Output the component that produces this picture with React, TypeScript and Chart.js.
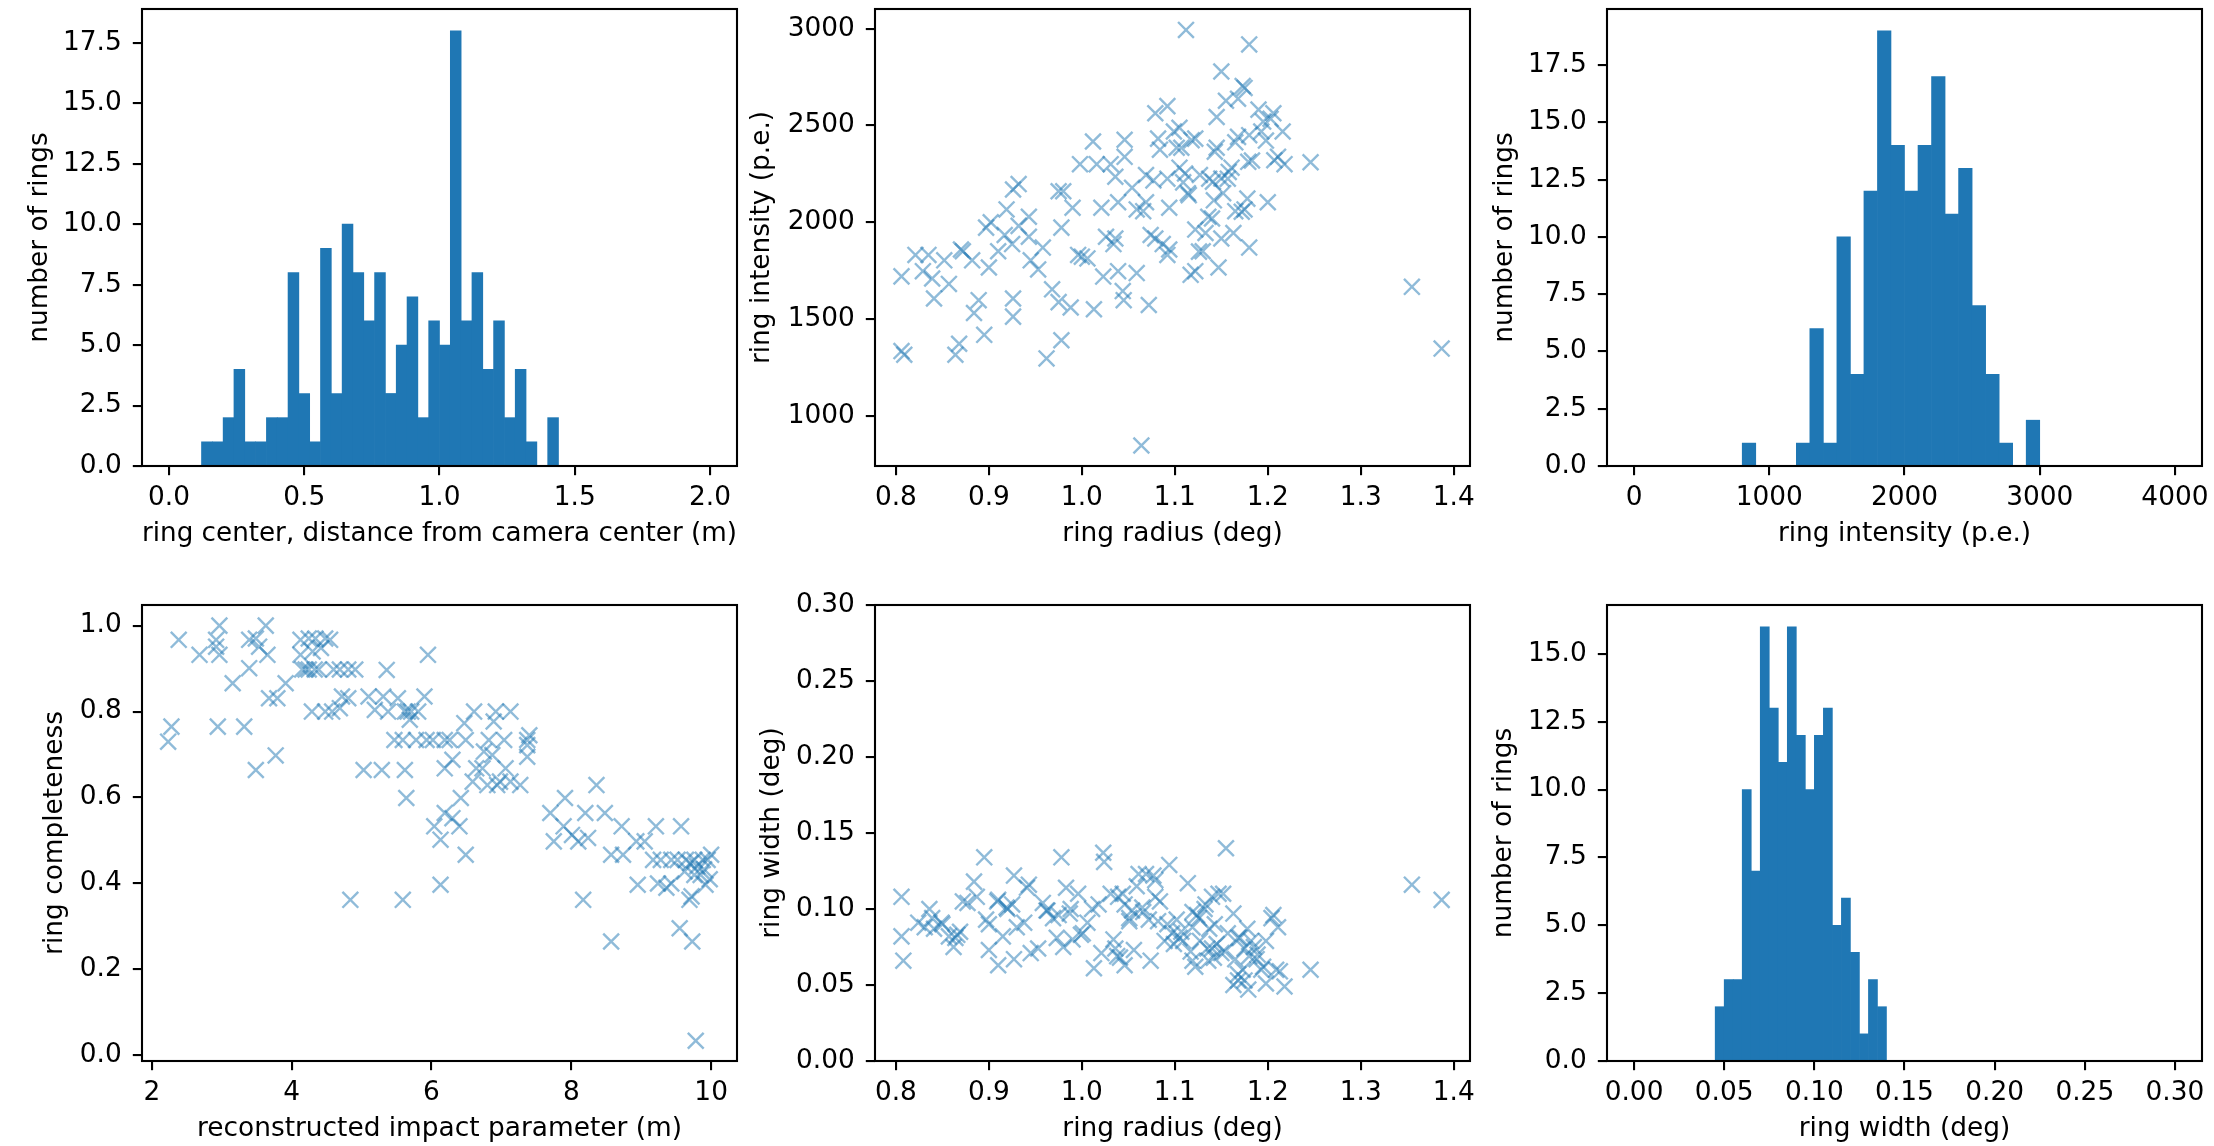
import React, { useEffect, useRef } from 'react';
import { Chart, registerables } from 'chart.js';

Chart.register(...registerables);

// ---------------- data ----------------
// Histogram 1: ring center distance from camera center (m), 50 bins on [0, 2]
const centerBinStart = 0;
const centerBinWidth = 0.04;
const centerCounts = [
  0, 0, 0, 1, 1, 2, 4, 1, 1, 2, 2, 8, 3, 1, 9, 3, 10, 8, 6, 8, 3, 5, 7, 2, 6,
  5, 18, 6, 8, 4, 6, 2, 4, 1, 0, 2, 0, 0, 0, 0, 0, 0, 0, 0, 0, 0, 0, 0, 0, 0,
];

// Histogram 3: ring intensity (p.e.), 40 bins on [0, 4000]
const intensityBinStart = 0;
const intensityBinWidth = 100;
const intensityCounts = [
  0, 0, 0, 0, 0, 0, 0, 0, 1, 0, 0, 0, 1, 6, 1, 10, 4, 12, 19, 14,
  12, 14, 17, 11, 13, 7, 4, 1, 0, 2, 0, 0, 0, 0, 0, 0, 0, 0, 0, 0,
];

// Histogram 6: ring width (deg), 60 bins on [0, 0.3]
const widthBinStart = 0;
const widthBinWidth = 0.005;
const widthCounts = [
  0, 0, 0, 0, 0, 0, 0, 0, 0, 2, 3, 3, 10, 7, 16, 13, 11, 16, 12, 10,
  12, 13, 5, 6, 4, 1, 3, 2, 0, 0, 0, 0, 0, 0, 0, 0, 0, 0, 0, 0,
  0, 0, 0, 0, 0, 0, 0, 0, 0, 0, 0, 0, 0, 0, 0, 0, 0, 0, 0, 0,
];

// Scatter 2: ring radius (deg) vs ring intensity (p.e.)
const radiusForIntensity = [
  0.806, 0.806, 0.809, 0.821, 0.829, 0.835, 0.839, 0.841, 0.852, 0.857,
  0.864, 0.868, 0.870, 0.872, 0.882, 0.884, 0.889, 0.895, 0.897, 0.902,
  0.900, 0.910, 0.917, 0.919, 0.925, 0.926, 0.932, 0.926, 0.926, 0.932,
  0.943, 0.943, 0.945, 0.953, 0.958, 0.962, 0.968, 0.975, 0.980, 0.978,
  0.978, 0.975, 0.988, 0.990, 0.998, 0.996, 1.000, 1.006, 1.012, 1.013,
  1.016, 1.021, 1.023, 1.026, 1.031, 1.034, 1.036, 1.036, 1.039, 1.039,
  1.044, 1.045, 1.046, 1.046, 1.054, 1.059, 1.059, 1.064, 1.066, 1.069,
  1.069, 1.072, 1.074, 1.077, 1.079, 1.079, 1.082, 1.084, 1.092, 1.087,
  1.092, 1.094, 1.094, 1.092, 1.099, 1.102, 1.105, 1.107, 1.112, 1.105,
  1.109, 1.114, 1.117, 1.122, 1.122, 1.122, 1.127, 1.130, 1.133, 1.137,
  1.140, 1.142, 1.145, 1.147, 1.145, 1.150, 1.150, 1.152, 1.155, 1.157,
  1.161, 1.163, 1.165, 1.168, 1.165, 1.173, 1.175, 1.175, 1.178, 1.180,
  1.180, 1.183, 1.180, 1.190, 1.193, 1.198, 1.200, 1.203, 1.206, 1.211,
  1.216, 1.218, 1.246, 1.355, 1.387,
  1.195, 1.168, 1.143, 1.118, 1.207, 1.179, 1.158, 1.150, 1.111, 1.141,
  1.115, 1.136, 1.172, 1.126,
];
const ringIntensity = [
  1720, 1334, 1315, 1831, 1747, 1831, 1709, 1606, 1803, 1681,
  1315, 1372, 1859, 1850, 1803, 1531, 1597, 1418, 1972, 2000,
  1766, 1850, 1934, 2066, 1887, 2169, 2197, 1606, 1512, 1981,
  2028, 1925, 1803, 1756, 1869, 1296, 1653, 2160, 2160, 1972,
  1390, 1587, 1559, 2075, 2300, 1831, 1822, 1813, 2417, 1550,
  2300, 2075, 1719, 1925, 2300, 1887, 1916, 2235, 1747, 2103,
  1644, 1597, 2338, 2426, 2178, 1737, 2066, 846, 2057, 2103,
  2244, 1572, 1934, 2216, 2563, 1916, 2432, 2375, 2600, 1887,
  1831, 1859, 2075, 2225, 2469, 2385, 2488, 2385, 2994, 2282,
  2206, 2150, 1728, 1747, 2432, 1962, 2244, 1850, 1944, 2225,
  2019, 2113, 2544, 1766, 2385, 2779, 1916, 2150, 2628, 2225,
  2282, 1944, 2413, 2638, 2057, 2704, 2694, 2066, 2122, 2919,
  1869, 2319, 2450, 2582, 2469, 2422, 2103, 2535, 2563, 2338,
  2469, 2300, 2310, 1666, 1347,
  2520, 2441, 2364, 2424, 2320, 2312, 2260, 2226, 2252, 2209,
  2140, 2028, 2054, 1848,
];

// Scatter 4: reconstructed impact parameter (m) vs ring completeness
const impactParameter = [
  2.385, 2.683, 2.967, 2.920, 2.920, 2.967, 3.157, 3.393, 3.488, 3.535,
  3.393, 3.630, 3.654, 2.281, 2.234, 2.944, 3.322, 3.488, 3.772, 3.677,
  3.796, 3.914, 4.127, 4.245, 4.340, 4.480, 4.550, 4.127, 4.300, 4.420,
  4.151, 4.245, 4.387, 4.600, 4.690, 4.810, 4.910, 4.290, 4.480, 4.580,
  4.690, 4.720, 4.810, 5.100, 5.310, 5.520, 5.190, 5.380, 5.620, 5.710,
  5.810, 5.690, 5.900, 5.950, 5.360, 5.470, 5.590, 5.780, 5.930, 6.020,
  5.030, 5.290, 5.620, 5.640, 4.840, 5.590, 6.040,
  6.61, 6.92, 7.13, 6.47, 6.89, 6.19, 6.26, 6.49, 6.82, 7.04,
  7.37, 7.37, 6.75, 6.87, 7.37, 6.30, 6.19, 6.64, 6.73, 7.06,
  6.59, 6.80, 6.94, 7.13, 7.27, 6.42, 6.19, 6.30, 6.40, 6.13,
  6.49, 6.13, 7.70, 7.91, 7.89, 8.01, 8.20, 8.24, 7.75, 8.10,
  8.36, 8.48, 8.72, 8.57, 8.74, 8.93, 9.05, 9.21, 9.57, 9.17,
  9.28, 9.43, 9.52, 9.64, 9.76, 9.88, 9.95, 9.62, 9.76, 9.85,
  9.92, 8.95, 9.24, 9.36, 9.43, 9.69, 8.17, 9.55, 8.57, 9.73,
  9.78,
  9.80, 9.90, 10.0, 9.98, 9.70, 4.20, 4.33, 5.66, 6.98, 7.40, 9.72,
];
const ringCompleteness = [
  0.967, 0.932, 1.000, 0.967, 0.951, 0.932, 0.866, 0.967, 0.970, 0.951,
  0.901, 1.000, 0.932, 0.765, 0.730, 0.765, 0.765, 0.664, 0.698, 0.831,
  0.831, 0.866, 0.967, 0.970, 0.970, 0.970, 0.967, 0.932, 0.940, 0.948,
  0.898, 0.898, 0.898, 0.898, 0.898, 0.898, 0.898, 0.800, 0.800, 0.800,
  0.808, 0.835, 0.831, 0.835, 0.835, 0.831, 0.804, 0.800, 0.800, 0.800,
  0.800, 0.781, 0.835, 0.932, 0.897, 0.734, 0.734, 0.734, 0.734, 0.734,
  0.664, 0.664, 0.664, 0.599, 0.362, 0.362, 0.533,
  0.800, 0.800, 0.800, 0.773, 0.777, 0.734, 0.734, 0.734, 0.734, 0.734,
  0.734, 0.722, 0.707, 0.699, 0.695, 0.688, 0.668, 0.668, 0.668, 0.668,
  0.637, 0.629, 0.629, 0.637, 0.629, 0.599, 0.564, 0.552, 0.533, 0.502,
  0.467, 0.397, 0.564, 0.599, 0.533, 0.513, 0.564, 0.506, 0.498, 0.498,
  0.629, 0.564, 0.533, 0.467, 0.467, 0.498, 0.498, 0.533, 0.533, 0.455,
  0.455, 0.455, 0.455, 0.455, 0.455, 0.455, 0.455, 0.428, 0.420, 0.420,
  0.397, 0.397, 0.400, 0.390, 0.400, 0.362, 0.362, 0.296, 0.265, 0.265,
  0.034,
  0.440, 0.433, 0.467, 0.410, 0.447, 0.898, 0.898, 0.800, 0.637, 0.745, 0.370,
];

// Scatter 5: ring radius (deg) vs ring width (deg)
const radiusForWidth = [
  0.806, 0.806, 0.808, 0.824, 0.831, 0.836, 0.839, 0.841, 0.849, 0.857,
  0.862, 0.864, 0.869, 0.872, 0.877, 0.884, 0.887, 0.895, 0.897, 0.900,
  0.900, 0.910, 0.910, 0.915, 0.920, 0.925, 0.927, 0.930, 0.927, 0.938,
  0.943, 0.945, 0.953, 0.958, 0.963, 0.973, 0.975, 0.978, 0.980, 0.983,
  0.988, 0.990, 0.996, 1.001, 1.006, 1.011, 1.013, 1.018, 1.021, 1.023,
  1.024, 1.034, 1.036, 1.039, 1.041, 1.044, 1.046, 1.046, 1.051, 1.056,
  1.059, 1.066, 1.069, 1.072, 1.074, 1.077, 1.079, 1.082, 1.084, 1.089,
  0.850, 0.866, 0.909, 0.919, 0.941, 0.962, 0.969, 0.987, 0.999, 1.031,
  1.038, 1.051, 1.054, 1.065, 1.061, 1.079,
  1.092, 1.094, 1.097, 1.099, 1.102, 1.105, 1.107, 1.109, 1.114, 1.117,
  1.119, 1.122, 1.124, 1.127, 1.132, 1.135, 1.137, 1.140, 1.142, 1.145,
  1.147, 1.150, 1.152, 1.155, 1.157, 1.163, 1.163, 1.165, 1.168, 1.170,
  1.173, 1.175, 1.178, 1.179, 1.180, 1.185, 1.188, 1.193, 1.195, 1.198,
  1.198, 1.206, 1.211, 1.213, 1.218, 1.246, 1.355, 1.387,
  1.126, 1.119, 1.143, 1.168, 1.182, 1.140, 1.154, 1.189, 1.119, 1.136,
  1.168, 1.175, 1.204, 1.133, 1.209,
];
const ringWidth = [
  0.108, 0.082, 0.066, 0.091, 0.088, 0.100, 0.094, 0.087, 0.091, 0.082,
  0.075, 0.081, 0.085, 0.105, 0.104, 0.118, 0.108, 0.134, 0.093, 0.090,
  0.073, 0.063, 0.106, 0.082, 0.100, 0.103, 0.122, 0.088, 0.067, 0.091,
  0.116, 0.071, 0.074, 0.104, 0.099, 0.081, 0.096, 0.134, 0.075, 0.114,
  0.100, 0.080, 0.110, 0.084, 0.091, 0.100, 0.061, 0.103, 0.071, 0.137,
  0.131, 0.080, 0.074, 0.108, 0.068, 0.110, 0.063, 0.103, 0.092, 0.073,
  0.115, 0.098, 0.123, 0.093, 0.066, 0.122, 0.108, 0.092, 0.105, 0.079,
  0.090, 0.083, 0.105, 0.101, 0.114, 0.099, 0.094, 0.097, 0.083, 0.110,
  0.069, 0.094, 0.099, 0.101, 0.123, 0.119,
  0.090, 0.129, 0.084, 0.077, 0.093, 0.081, 0.085, 0.079, 0.117, 0.072,
  0.098, 0.062, 0.096, 0.079, 0.100, 0.074, 0.087, 0.108, 0.068, 0.077,
  0.110, 0.071, 0.110, 0.140, 0.084, 0.097, 0.050, 0.067, 0.053, 0.081,
  0.060, 0.074, 0.087, 0.047, 0.069, 0.075, 0.067, 0.060, 0.062, 0.079,
  0.051, 0.096, 0.088, 0.059, 0.049, 0.060, 0.116, 0.106,
  0.094, 0.088, 0.090, 0.081, 0.079, 0.074, 0.072, 0.070, 0.066, 0.066,
  0.057, 0.053, 0.094, 0.103, 0.060,
];

// Tick values
const countTicks18 = [0, 2.5, 5, 7.5, 10, 12.5, 15, 17.5];
const countTicks16 = [0, 2.5, 5, 7.5, 10, 12.5, 15];
const centerTicks = [0, 0.5, 1, 1.5, 2];
const radiusTicks = [0.8, 0.9, 1.0, 1.1, 1.2, 1.3, 1.4];
const intensityTicksY = [1000, 1500, 2000, 2500, 3000];
const intensityTicksX = [0, 1000, 2000, 3000, 4000];
const impactTicks = [2, 4, 6, 8, 10];
const completenessTicks = [0, 0.2, 0.4, 0.6, 0.8, 1.0];
const widthTicks = [0, 0.05, 0.1, 0.15, 0.2, 0.25, 0.3];

// ---------------- styling ----------------
const FONT_FAMILY = "'DejaVu Sans', 'Liberation Sans', sans-serif";
const FONT_SIZE = 26.4;
const HALF_LINE = (FONT_SIZE * 1.2) / 2;
const TICK_LEN = 9.2;
const LINE_W = 2.1;
const BAR_COLOR = '#1f77b4';
const MARK_COLOR = 'rgba(31,119,180,0.5)';

const framePlugin = {
  id: 'frame',
  afterDatasetsDraw(chart: any) {
    const { ctx, chartArea: a } = chart;
    ctx.save();
    ctx.strokeStyle = '#000';
    ctx.lineWidth = LINE_W;
    ctx.strokeRect(a.left, a.top, a.right - a.left, a.bottom - a.top);
    ctx.restore();
  },
};

function axis(
  kind: 'x' | 'y',
  min: number,
  max: number,
  ticks: number[],
  digits: number,
  title: string,
  size: number,
  titlePad: number,
) {
  return {
    type: 'linear',
    position: kind === 'x' ? 'bottom' : 'left',
    min,
    max,
    offset: false,
    afterBuildTicks: (s: any) => {
      s.ticks = ticks.map((v) => ({ value: v }));
    },
    afterFit: (s: any) => {
      if (kind === 'x') s.height = size;
      else s.width = size;
    },
    grid: {
      display: true,
      offset: false,
      drawOnChartArea: false,
      drawTicks: true,
      tickLength: TICK_LEN,
      tickWidth: LINE_W,
      tickColor: '#000',
      lineWidth: LINE_W,
      color: '#000',
    },
    border: { display: false },
    ticks: {
      autoSkip: false,
      maxRotation: 0,
      minRotation: 0,
      padding: kind === 'x' ? 7 : 11,
      color: '#000',
      font: { family: FONT_FAMILY, size: FONT_SIZE },
      callback: (v: any) => Number(v).toFixed(digits),
    },
    title: {
      display: true,
      text: title,
      color: '#000',
      font: { family: FONT_FAMILY, size: FONT_SIZE },
      padding: kind === 'x' ? { top: 0, bottom: titlePad } : { top: titlePad, bottom: 0 },
    },
  };
}

function histDataset(counts: number[], start: number, width: number) {
  return {
    data: counts.map((c, i) => ({ x: start + (i + 0.5) * width, y: c })),
    backgroundColor: BAR_COLOR,
    borderWidth: 0,
    barPercentage: 1,
    categoryPercentage: 1,
  };
}

function scatterDataset(xs: number[], ys: number[]) {
  return {
    data: xs.map((x, i) => ({ x, y: ys[i] })),
    showLine: false,
    pointStyle: 'crossRot',
    pointRadius: 11.2,
    pointHoverRadius: 11.2,
    pointBorderWidth: 2.4,
    borderColor: MARK_COLOR,
    pointBorderColor: MARK_COLOR,
    backgroundColor: MARK_COLOR,
    pointBackgroundColor: MARK_COLOR,
  };
}

type AxisSpec = { min: number; max: number; ticks: number[]; digits: number; title: string; center: number };
type PanelSpec = {
  key: string;
  type: 'bar' | 'scatter';
  cell: [number, number, number, number];
  plot: [number, number, number, number];
  dataset: any;
  x: AxisSpec; // center = y pixel of x-title centre
  y: AxisSpec; // center = x pixel of y-title centre
};

const TOP_CELL: [number, number] = [-40, 570];
const BOT_CELL: [number, number] = [570, 1146];
const COL1: [number, number] = [0, 760];
const COL2: [number, number] = [745, 1490];
const COL3: [number, number] = [1480, 2250];

const panels: PanelSpec[] = [
  {
    key: 'center',
    type: 'bar',
    cell: [COL1[0], TOP_CELL[0], COL1[1], TOP_CELL[1]],
    plot: [142, 9, 737, 466],
    dataset: histDataset(centerCounts, centerBinStart, centerBinWidth),
    x: { min: -0.1, max: 2.1, ticks: centerTicks, digits: 1, title: 'ring center, distance from camera center (m)', center: 534 },
    y: { min: 0, max: 18.9, ticks: countTicks18, digits: 1, title: 'number of rings', center: 40 },
  },
  {
    key: 'radInt',
    type: 'scatter',
    cell: [COL2[0], TOP_CELL[0], COL2[1], TOP_CELL[1]],
    plot: [875, 9, 1470, 466],
    dataset: scatterDataset(radiusForIntensity, ringIntensity),
    x: { min: 0.7775, max: 1.4175, ticks: radiusTicks, digits: 1, title: 'ring radius (deg)', center: 534 },
    y: { min: 740, max: 3102, ticks: intensityTicksY, digits: 0, title: 'ring intensity (p.e.)', center: 762 },
  },
  {
    key: 'intHist',
    type: 'bar',
    cell: [COL3[0], TOP_CELL[0], COL3[1], TOP_CELL[1]],
    plot: [1607, 9, 2202, 466],
    dataset: histDataset(intensityCounts, intensityBinStart, intensityBinWidth),
    x: { min: -200, max: 4200, ticks: intensityTicksX, digits: 0, title: 'ring intensity (p.e.)', center: 534 },
    y: { min: 0, max: 19.95, ticks: countTicks18, digits: 1, title: 'number of rings', center: 1505.5 },
  },
  {
    key: 'impact',
    type: 'scatter',
    cell: [COL1[0], BOT_CELL[0], COL1[1], BOT_CELL[1]],
    plot: [142, 605, 737, 1061],
    dataset: scatterDataset(impactParameter, ringCompleteness),
    x: { min: 1.86, max: 10.37, ticks: impactTicks, digits: 0, title: 'reconstructed impact parameter (m)', center: 1129.5 },
    y: { min: -0.013, max: 1.048, ticks: completenessTicks, digits: 1, title: 'ring completeness', center: 55.5 },
  },
  {
    key: 'radWid',
    type: 'scatter',
    cell: [COL2[0], BOT_CELL[0], COL2[1], BOT_CELL[1]],
    plot: [875, 605, 1470, 1061],
    dataset: scatterDataset(radiusForWidth, ringWidth),
    x: { min: 0.7775, max: 1.4175, ticks: radiusTicks, digits: 1, title: 'ring radius (deg)', center: 1129.5 },
    y: { min: 0, max: 0.3, ticks: widthTicks, digits: 2, title: 'ring width (deg)', center: 772 },
  },
  {
    key: 'widHist',
    type: 'bar',
    cell: [COL3[0], BOT_CELL[0], COL3[1], BOT_CELL[1]],
    plot: [1607, 605, 2202, 1061],
    dataset: histDataset(widthCounts, widthBinStart, widthBinWidth),
    x: { min: -0.015, max: 0.315, ticks: widthTicks, digits: 2, title: 'ring width (deg)', center: 1129.5 },
    y: { min: 0, max: 16.8, ticks: countTicks16, digits: 1, title: 'number of rings', center: 1504.6 },
  },
];

function Panel({ spec }: { spec: PanelSpec }) {
  const ref = useRef<HTMLCanvasElement>(null);
  const [cl, ct, cr, cb] = spec.cell;
  const [pl, pt, pr, pb] = spec.plot;
  useEffect(() => {
    if (!ref.current) return;
    const xTitlePad = Math.max(0, cb - HALF_LINE - spec.x.center);
    const yTitlePad = Math.max(0, spec.y.center - cl - HALF_LINE);
    const chart = new Chart(ref.current, {
      type: spec.type,
      data: { datasets: [spec.dataset] },
      options: {
        responsive: false,
        maintainAspectRatio: false,
        animation: false,
        events: [],
        devicePixelRatio: 1,
        layout: {
          autoPadding: false,
          padding: { left: 0, top: pt - ct, right: cr - pr, bottom: 0 },
        },
        plugins: {
          legend: { display: false },
          tooltip: { enabled: false },
        },
        scales: {
          x: axis('x', spec.x.min, spec.x.max, spec.x.ticks, spec.x.digits, spec.x.title, cb - pb, xTitlePad),
          y: axis('y', spec.y.min, spec.y.max, spec.y.ticks, spec.y.digits, spec.y.title, pl - cl, yTitlePad),
        },
      } as any,
      plugins: [framePlugin],
    } as any);
    return () => chart.destroy();
  }, []);
  return (
    <canvas
      ref={ref}
      width={cr - cl}
      height={cb - ct}
      style={{ position: 'absolute', left: cl, top: ct, width: cr - cl, height: cb - ct }}
    />
  );
}

export default function App() {
  return (
    <div
      style={{
        position: 'absolute',
        left: 0,
        top: 0,
        width: 2214,
        height: 1146,
        background: '#ffffff',
        overflow: 'hidden',
      }}
    >
      {panels.map((p) => (
        <Panel key={p.key} spec={p} />
      ))}
    </div>
  );
}
